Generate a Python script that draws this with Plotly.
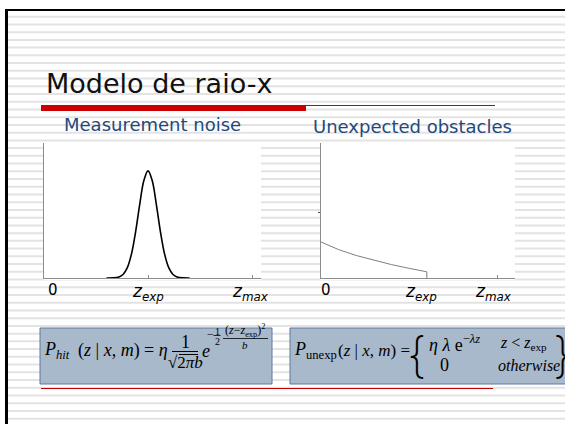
import plotly.graph_objects as go

W, H = 565, 424

# ---------------- data ----------------
# Measurement noise curve (x in units where z_exp = 5, z_max = 10)
noise_x = [3.0, 3.3, 3.6, 3.8, 4.0, 4.2, 4.4, 4.6, 4.8, 5.0, 5.2, 5.4, 5.6, 5.8, 6.0, 6.2, 6.4, 6.7, 7.0]
noise_y = [0.0, 0.001, 0.01, 0.033, 0.094, 0.22, 0.427, 0.685, 0.91, 1.0, 0.91, 0.685, 0.427, 0.22, 0.094, 0.033, 0.01, 0.001, 0.0]

# Unexpected obstacles curve (z_exp = 6, z_max = 10)
unexp_x = [0, 1, 2, 3, 4, 5, 6, 6]
unexp_y = [0.336, 0.265, 0.21, 0.165, 0.125, 0.09, 0.058, 0.0]

noise_ticks = [5, 10]
unexp_ticks = [10]
tick_labels = ["0", "<i>z<sub>exp</sub></i>", "<i>z<sub>max</sub></i>"]

title_text = "Modelo de raio-x"
subtitles = ["Measurement noise", "Unexpected obstacles"]

# ---------------- helpers ----------------
def X(px):
    return px / W

def Y(py):
    return 1 - py / H

shapes = []
annotations = []

def rect(x0, y0, x1, y1, fill, line=None, lw=0):
    shapes.append(dict(type="rect", xref="paper", yref="paper",
                       x0=X(x0), x1=X(x1), y0=Y(y0), y1=Y(y1),
                       fillcolor=fill, layer="below",
                       line=dict(color=line or fill, width=lw)))

def hline(x0, x1, y, color, width=1):
    shapes.append(dict(type="line", xref="paper", yref="paper",
                       x0=X(x0), x1=X(x1), y0=Y(y), y1=Y(y),
                       layer="above", line=dict(color=color, width=width)))

def text(t, x, y, size, family="DejaVu Sans", color="#000000", xa="center", ya="middle", weight=None):
    f = dict(size=size, family=family, color=color)
    if weight is not None:
        f["weight"] = weight
    annotations.append(dict(text=t, x=X(x), y=Y(y), xref="paper", yref="paper",
                            xanchor=xa, yanchor=ya, showarrow=False, font=f))

# ---------------- background ----------------
s = 15.7
while s < H:
    rect(8, s, W, s + 2, "#e3e3e3")
    s += 7.73
rect(5, 9, W, 11, "#000000")
rect(5, 9, 8, H, "#000000")
rect(43.5, 142, 261, 280, "#ffffff")
rect(320.5, 142, 515, 280, "#ffffff")
rect(41, 105, 306, 111, "#cc0000")
rect(306, 105, 495, 106, "#cc0000")
rect(41, 388, 493, 389, "#c00000")
rect(40, 328, 272, 384, "#a9b9cc", "#5b7a9c", 1)
rect(290, 328, 575, 384, "#a9b9cc", "#5b7a9c", 1)

# ---------------- texts ----------------
SERIF = "Liberation Serif"
text(title_text, 44, 83, 27, color="#111111", xa="left")
text(subtitles[0], 152, 125, 18, color="#1f497d")
text(subtitles[1], 412, 126, 18, color="#1f497d")

text(tick_labels[0], 53, 290, 15)
text(tick_labels[1], 148, 292, 17)
text(tick_labels[2], 250, 292, 17)
text(tick_labels[0], 326, 290, 15)
text(tick_labels[1], 421, 292, 17)
text(tick_labels[2], 493, 292, 17)

# left formula
text("<i>P</i><sub><i>hit</i></sub>", 42, 350, 18, SERIF, xa="left")
text("(<i>z</i> | <i>x</i>, <i>m</i>) = <i>η</i>", 76, 350, 18, SERIF, xa="left")
text("1", 185, 342, 18, SERIF)
hline(172, 198, 351.5, "#000000", 1)
text("√2<i>πb</i>", 185, 362, 17, SERIF)
hline(179, 198, 354.5, "#000000", 1)
text("<i>e</i>", 206, 351, 18, SERIF)
text("−", 210, 334, 12, SERIF)
text("1", 217, 331, 10, SERIF)
hline(213.5, 220.5, 335.5, "#000000", 0.8)
text("2", 217, 341, 10, SERIF)
text("(<i>z</i>−<i>z</i><sub>exp</sub>)<sup>2</sup>", 223, 330, 12, SERIF, xa="left")
hline(223, 268, 338.5, "#000000", 0.8)
text("<i>b</i>", 245, 345, 11, SERIF)

# right formula
text("<i>P</i><sub>unexp</sub>", 292, 350, 18, SERIF, xa="left")
text("(<i>z</i> | <i>x</i>, <i>m</i>) =", 336, 350, 17, SERIF, xa="left")
text("{", 416, 354, 48, "Inter", weight=200)
text("<i>η λ</i> e<sup>−<i>λz</i></sup>", 427, 343, 18, SERIF, xa="left")
text("<i>z</i> < <i>z</i><sub>exp</sub>", 498, 343, 16, SERIF, xa="left")
text("0", 444, 365, 18, SERIF)
text("<i>otherwise</i>", 496, 365, 16, SERIF, xa="left")
text("}", 562, 354, 48, "Inter", weight=200)

# ---------------- traces ----------------
fig = go.Figure()
fig.add_trace(go.Scatter(x=noise_x, y=noise_y, mode="lines",
                         line=dict(color="#000000", width=1.6, shape="spline"),
                         xaxis="x", yaxis="y", hoverinfo="skip"))
fig.add_trace(go.Scatter(x=unexp_x, y=unexp_y, mode="lines",
                         line=dict(color="#7f7f7f", width=1),
                         xaxis="x2", yaxis="y2", hoverinfo="skip"))

ydom = [1 - 278 / H, 1 - 143 / H]
axis_common = dict(showgrid=False, zeroline=False, showticklabels=False,
                   showline=True, linecolor="#8c8c8c", linewidth=1,
                   layer="below traces", fixedrange=True)

fig.update_layout(
    width=W, height=H,
    margin=dict(l=0, r=0, t=0, b=0),
    paper_bgcolor="#ffffff",
    plot_bgcolor="rgba(0,0,0,0)",
    showlegend=False,
    xaxis=dict(domain=[X(44), X(261)], range=[0, 10.43], anchor="y",
               ticks="inside", tickvals=noise_ticks, ticklen=3,
               tickcolor="#8c8c8c", **axis_common),
    yaxis=dict(domain=ydom, range=[0, 1.26], anchor="x", ticks="", **axis_common),
    xaxis2=dict(domain=[X(321), X(515)], range=[0, 11.0], anchor="y2",
                ticks="inside", tickvals=unexp_ticks, ticklen=3,
                tickcolor="#8c8c8c", **axis_common),
    yaxis2=dict(domain=ydom, range=[0, 1.26], anchor="x2",
                ticks="outside", tickvals=[0.607], ticklen=2,
                tickcolor="#555555", **axis_common),
    shapes=shapes,
    annotations=annotations,
)

fig.write_html("out.html", config={"displayModeBar": False},
               post_script="document.body.style.margin='0';document.body.style.overflow='hidden';")
